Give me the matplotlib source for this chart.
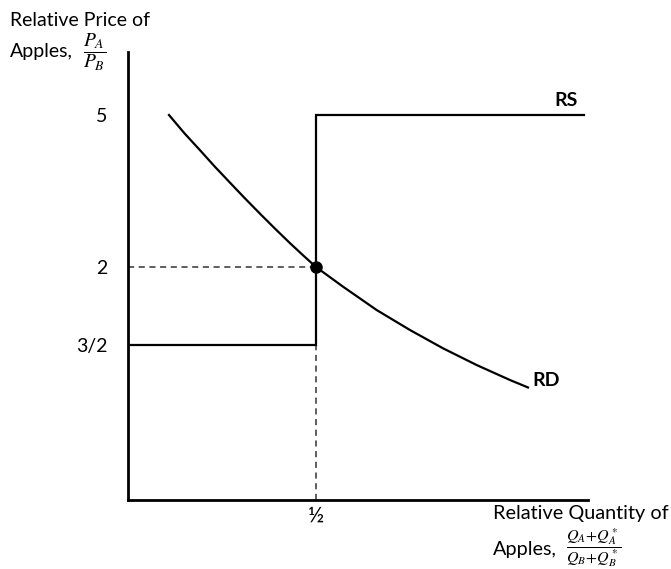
import numpy as np
import matplotlib
matplotlib.use("Agg")
import matplotlib.pyplot as plt

plt.rcParams['font.family'] = ['Lato', 'DejaVu Sans']
plt.rcParams['mathtext.fontset'] = 'stix'

# ---- data ----
y_tick_values = [1.5, 2, 5]
y_tick_labels = ["3/2", "2", "5"]
x_tick_values = [0.5]
x_tick_labels = ["½"]

rs_x = [0.0, 0.5, 0.5, 1.213]
rs_y = [1.5, 1.5, 5.0, 5.0]

rd_x = [0.109, 0.150, 0.1915, 0.231, 0.2713, 0.311, 0.3511, 0.391, 0.4309, 0.466, 0.5,
        0.5718, 0.6614, 0.75, 0.8378, 0.9274, 1.016, 1.0638]
rd_y = [5.0, 4.64, 4.305, 3.98, 3.664, 3.355, 3.052, 2.757, 2.470, 2.228, 2.0,
        1.874, 1.724, 1.596, 1.468, 1.306, 1.161, 1.089]

eq_x = 0.5
eq_y = 2.0

# ---- non-linear schematic price scale (value -> relative height) ----
scale_vals = np.array([0.0, 1.5, 2.0, 5.0, 8.0])
scale_pos = np.array([0.0, 155.0, 233.0, 385.0, 537.0])

def fwd(v):
    return np.interp(v, scale_vals, scale_pos)

def inv(p):
    return np.interp(p, scale_pos, scale_vals)

W, H = 671, 569
fig = plt.figure(figsize=(W / 100, H / 100), dpi=100)
left, right, top, bottom = 128, 588, 52, 500
ax = fig.add_axes([left / W, (H - bottom) / H, (right - left) / W, (bottom - top) / H])
ax.set_yscale('function', functions=(fwd, inv))
ax.set_xlim(0, (right - left) / 376.0)
ax.set_ylim(0, inv(bottom - top))

for s in ['top', 'right']:
    ax.spines[s].set_visible(False)
for s in ['left', 'bottom']:
    ax.spines[s].set_linewidth(2.0)
    ax.spines[s].set_color('black')

ax.set_yticks(y_tick_values)
ax.set_yticklabels(y_tick_labels, fontsize=14)
ax.set_xticks(x_tick_values)
ax.set_xticklabels(x_tick_labels, fontsize=16)
ax.tick_params(axis='y', length=0, pad=15)
ax.tick_params(axis='x', length=0, pad=4)
ax.yaxis.set_minor_locator(matplotlib.ticker.NullLocator())

# dashed guide lines
ax.plot([0, eq_x], [eq_y, eq_y], ls=(0, (4, 3)), color='#333333', lw=1.1, zorder=2)
ax.plot([eq_x, eq_x], [0, rs_y[0]], ls=(0, (4, 3)), color='#333333', lw=1.1, zorder=2)

ax.plot(rs_x, rs_y, color='black', lw=1.6, zorder=3, solid_joinstyle='miter')
ax.plot(rd_x, rd_y, color='black', lw=1.6, zorder=3, solid_joinstyle='round')
ax.plot([eq_x], [eq_y], 'o', color='black', ms=8, zorder=4)

# axis titles (figure pixel coordinates)
def fx(px):
    return px / W

def fy(py):
    return 1 - py / H

fig.text(fx(578), fy(101), "RS", fontsize=14, fontweight='bold', ha='right', va='center')
fig.text(fx(532), fy(380), "RD", fontsize=14, fontweight='bold', ha='left', va='center')

fig.text(fx(10), fy(20), "Relative Price of", fontsize=14, ha='left', va='center')
fig.text(fx(10), fy(52), "Apples,", fontsize=14, ha='left', va='center')
fig.text(fx(95), fy(52), r"$\dfrac{P_A}{P_B}$", fontsize=14, ha='center', va='center')

fig.text(fx(493), fy(513), "Relative Quantity of", fontsize=14.3, ha='left', va='center')
fig.text(fx(493), fy(549), "Apples,", fontsize=14.3, ha='left', va='center')
fig.text(fx(594), fy(548), r"$\dfrac{Q_A\!+\!Q_A^*}{Q_B\!+\!Q_B^*}$", fontsize=11.5, ha='center', va='center')

fig.savefig("out.png", dpi=100)
